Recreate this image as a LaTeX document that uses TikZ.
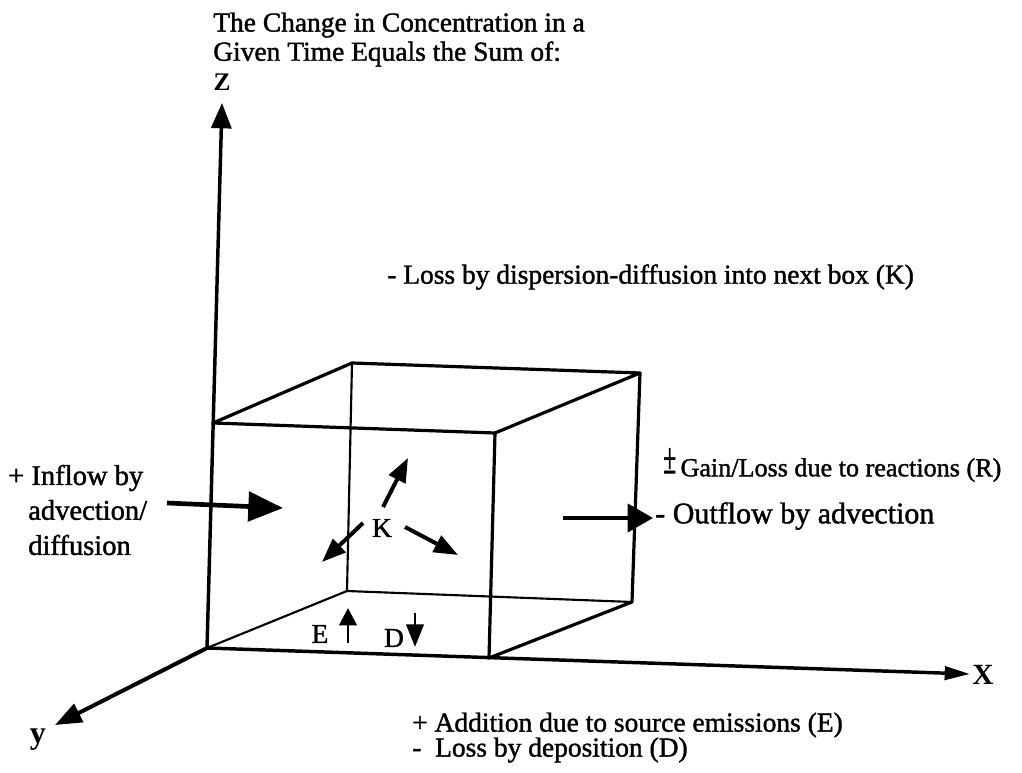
\documentclass[tikz,border=0pt]{standalone}
\usepackage{fontspec}
\setmainfont{Liberation Serif}
\newfontfamily\heavy[FakeBold=1.4]{Liberation Serif}
\usetikzlibrary{arrows.meta}
\begin{document}
\begin{tikzpicture}[x=0.75pt,y=-0.75pt,
  edge/.style={line width=2.4pt, line cap=round, line join=round},
  hidden/.style={line width=1.6pt, line cap=round},
  axisline/.style={line width=2.6pt, line cap=round},
  txt/.style={anchor=west, inner sep=0pt, font=\heavy\fontsize{20.6}{22}\selectfont},
  lbl/.style={inner sep=0pt, font=\bfseries\fontsize{19}{20}\selectfont},
  bigarrow/.style={-{Triangle[length=26pt,width=22pt]}, line width=3.5pt},
  midarrow/.style={-{Triangle[length=19pt,width=21pt]}, line width=3pt},
  karrow/.style={-{Triangle[length=18pt,width=13.5pt]}, line width=3pt},
  smallarrow/.style={-{Triangle[length=13pt,width=13pt]}, line width=2.2pt}
]
\useasboundingbox (0,0) rectangle (1022,773);

% corners and axis ends
\coordinate (O) at (207,648);
\coordinate (FBR) at (489,658);
\coordinate (FTL) at (213,423);
\coordinate (FTR) at (495,433);
\coordinate (BTL) at (352,363);
\coordinate (BTR) at (640,373);
\coordinate (BBL) at (347,591);
\coordinate (BBR) at (632,602);
\coordinate (Ztip) at (222,103);
\coordinate (Xtip) at (970,674);
\coordinate (Ytip) at (55,725);

% hidden edges
\draw[hidden] (O) -- (BBL) -- (BBR);
\draw[hidden] (BBL) -- (BTL);

% axes
\draw[axisline, -{Triangle[length=19pt,width=15pt]}] (O) -- (Ztip);
\draw[axisline, -{Triangle[length=19pt,width=10pt]}] (O) -- (Xtip);
\draw[axisline, line width=3pt, -{Triangle[length=20pt,width=15pt]}] (O) -- (Ytip);

% visible box edges
\draw[edge] (FTL) -- (FTR) -- (FBR);
\draw[edge] (FTL) -- (BTL) -- (BTR) -- (FTR);
\draw[edge] (BTR) -- (BBR) -- (FBR);

% labels of axes
\node[lbl] (zl) at (222,82) {Z};
\node[lbl, font=\bfseries\fontsize{22}{24}\selectfont] (xl) at (983,675) {X};
\node[lbl, font=\bfseries\fontsize{24}{26}\selectfont] (yl) at (38,740) {y};

% title
\node[txt] (t1) at (213,25) {The Change in Concentration in a};
\node[txt] (t2) at (213,54) {Given Time Equals the Sum of:};

% loss by dispersion
\node[txt] (lk) at (387,277) {- Loss by dispersion-diffusion into next box (K)};

% inflow
\node[txt, font=\heavy\fontsize{21.4}{23}\selectfont] (in1) at (8,478) {+ Inflow by};
\node[txt, font=\heavy\fontsize{21.4}{23}\selectfont] (in2) at (28,510) {advection/};
\node[txt, font=\heavy\fontsize{21.4}{23}\selectfont] (in3) at (28,545) {diffusion};
\coordinate (inS) at (167,503);
\coordinate (inE) at (283,508);
\draw[bigarrow] (inS) -- (inE);

% K arrows
\node[txt, anchor=center] (K) at (382,528) {K};
\coordinate (k1s) at (383,507); \coordinate (k1e) at (408,458);
\coordinate (k2s) at (363,523); \coordinate (k2e) at (322,562);
\coordinate (k3s) at (405,527); \coordinate (k3e) at (458,555);
\draw[karrow] (k1s) -- (k1e);
\draw[karrow] (k2s) -- (k2e);
\draw[karrow] (k3s) -- (k3e);

% reactions
\node[txt, font=\heavy\fontsize{19.6}{21}\selectfont] (gain) at (663,465)
  {\raisebox{0.12em}{\scalebox{0.9}[1.7]{±}}\,Gain/Loss due to reactions (R)};

% outflow
\coordinate (outS) at (563,518);
\coordinate (outE) at (653,518);
\draw[midarrow] (outS) -- (outE);
\node[txt, font=\heavy\fontsize{22.5}{24}\selectfont] (outT) at (655,516) {- Outflow by advection};

% E and D
\node[txt, anchor=center] (El) at (320,634) {E};
\coordinate (Es) at (348,643); \coordinate (Ee) at (348,608);
\draw[smallarrow] (Es) -- (Ee);
\node[txt, anchor=center] (Dl) at (394,638) {D};
\coordinate (Ds) at (415,613); \coordinate (De) at (415,647);
\draw[smallarrow, -{Triangle[length=17pt,width=13pt]}] (Ds) -- (De);

% bottom text
\node[txt, font=\heavy\fontsize{20.6}{22}\selectfont] (b1) at (412,725) {+ Addition due to source emissions (E)};
\node[txt, font=\heavy\fontsize{20.6}{22}\selectfont] (b2) at (412,750) {-~~Loss by deposition (D)};
\end{tikzpicture}
\end{document}
